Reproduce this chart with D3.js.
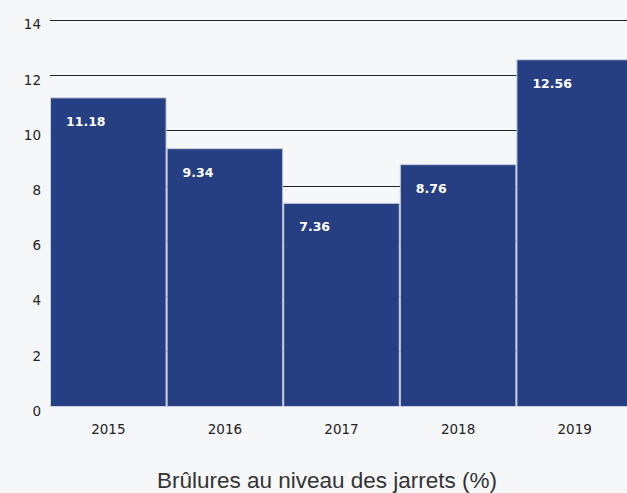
<!DOCTYPE html>
<html>
<head>
<meta charset="utf-8">
<script src="https://cdn.jsdelivr.net/npm/d3@7"></script>
<style>
  html, body { margin: 0; padding: 0; background: #f6f7f9; }
  #chart { width: 627px; height: 493px; }
  text { font-family: "DejaVu Sans", sans-serif; }
</style>
</head>
<body>
<div id="chart"></div>
<script>
// data
const years = ['2015', '2016', '2017', '2018', '2019'];
const values = [11.18, 9.34, 7.36, 8.76, 12.56];
const yTicks = [0, 2, 4, 6, 8, 10, 12, 14];
const title = 'Brûlures au niveau des jarrets (%)';

const data = years.map((y, i) => ({ year: y, value: values[i] }));

const width = 627, height = 493;
const margin = { top: 20, right: -6, bottom: 86, left: 50 };

const svg = d3.select('#chart')
    .append('svg')
    .attr('width', width)
    .attr('height', height);

const xScale = d3.scaleBand()
    .domain(years)
    .range([margin.left, width - margin.right])
    .padding(0);

const yScale = d3.scaleLinear()
    .domain([0, 14])
    .range([height - margin.bottom - 0.5, margin.top]);

// gridlines
svg.append('g')
    .selectAll('line')
    .data(yTicks.filter(d => d > 0))
    .enter()
    .append('line')
    .attr('x1', margin.left)
    .attr('x2', width)
    .attr('y1', d => Math.round(yScale(d)) + 0.5)
    .attr('y2', d => Math.round(yScale(d)) + 0.5)
    .style('stroke', '#222')
    .style('stroke-width', 1);

// bars
svg.selectAll('.bar')
    .data(data)
    .enter()
    .append('rect')
    .attr('class', 'bar')
    .attr('x', d => xScale(d.year) + 0.5)
    .attr('y', d => yScale(d.value))
    .attr('width', xScale.bandwidth() - 1)
    .attr('height', d => yScale(0) - yScale(d.value))
    .style('fill', '#263e82')
    .style('stroke', '#c9cfe0')
    .style('stroke-width', 1);

// value labels
svg.selectAll('.val')
    .data(data)
    .enter()
    .append('text')
    .attr('class', 'val')
    .attr('x', d => xScale(d.year) + 16)
    .attr('y', d => yScale(d.value) + 28)
    .style('fill', '#fff')
    .style('font-size', '12.5px')
    .style('font-weight', 'bold')
    .text(d => d.value.toFixed(2));

// y axis
const yAxis = d3.axisLeft(yScale)
    .tickValues(yTicks)
    .tickSize(0)
    .tickPadding(9);

svg.append('g')
    .attr('transform', `translate(${margin.left},0)`)
    .call(yAxis)
    .call(g => g.select('.domain').remove())
    .selectAll('text')
    .attr('dy', '0.32em')
    .attr('y', 4.5)
    .style('font-family', '"DejaVu Sans", sans-serif')
    .style('font-size', '13.5px')
    .style('fill', '#222');

// x axis
const xAxis = d3.axisBottom(xScale).tickSize(0).tickPadding(18);

svg.append('g')
    .attr('transform', `translate(0,${yScale(0)})`)
    .call(xAxis)
    .call(g => g.select('.domain').remove())
    .selectAll('text')
    .style('font-family', '"DejaVu Sans", sans-serif')
    .style('font-size', '13.5px')
    .style('fill', '#222');

// title
svg.append('text')
    .attr('x', 327)
    .attr('y', 488)
    .attr('text-anchor', 'middle')
    .style('font-family', '"Liberation Sans", Arial, sans-serif')
    .style('font-size', '22.5px')
    .style('fill', '#333')
    .text(title);
</script>
</body>
</html>
